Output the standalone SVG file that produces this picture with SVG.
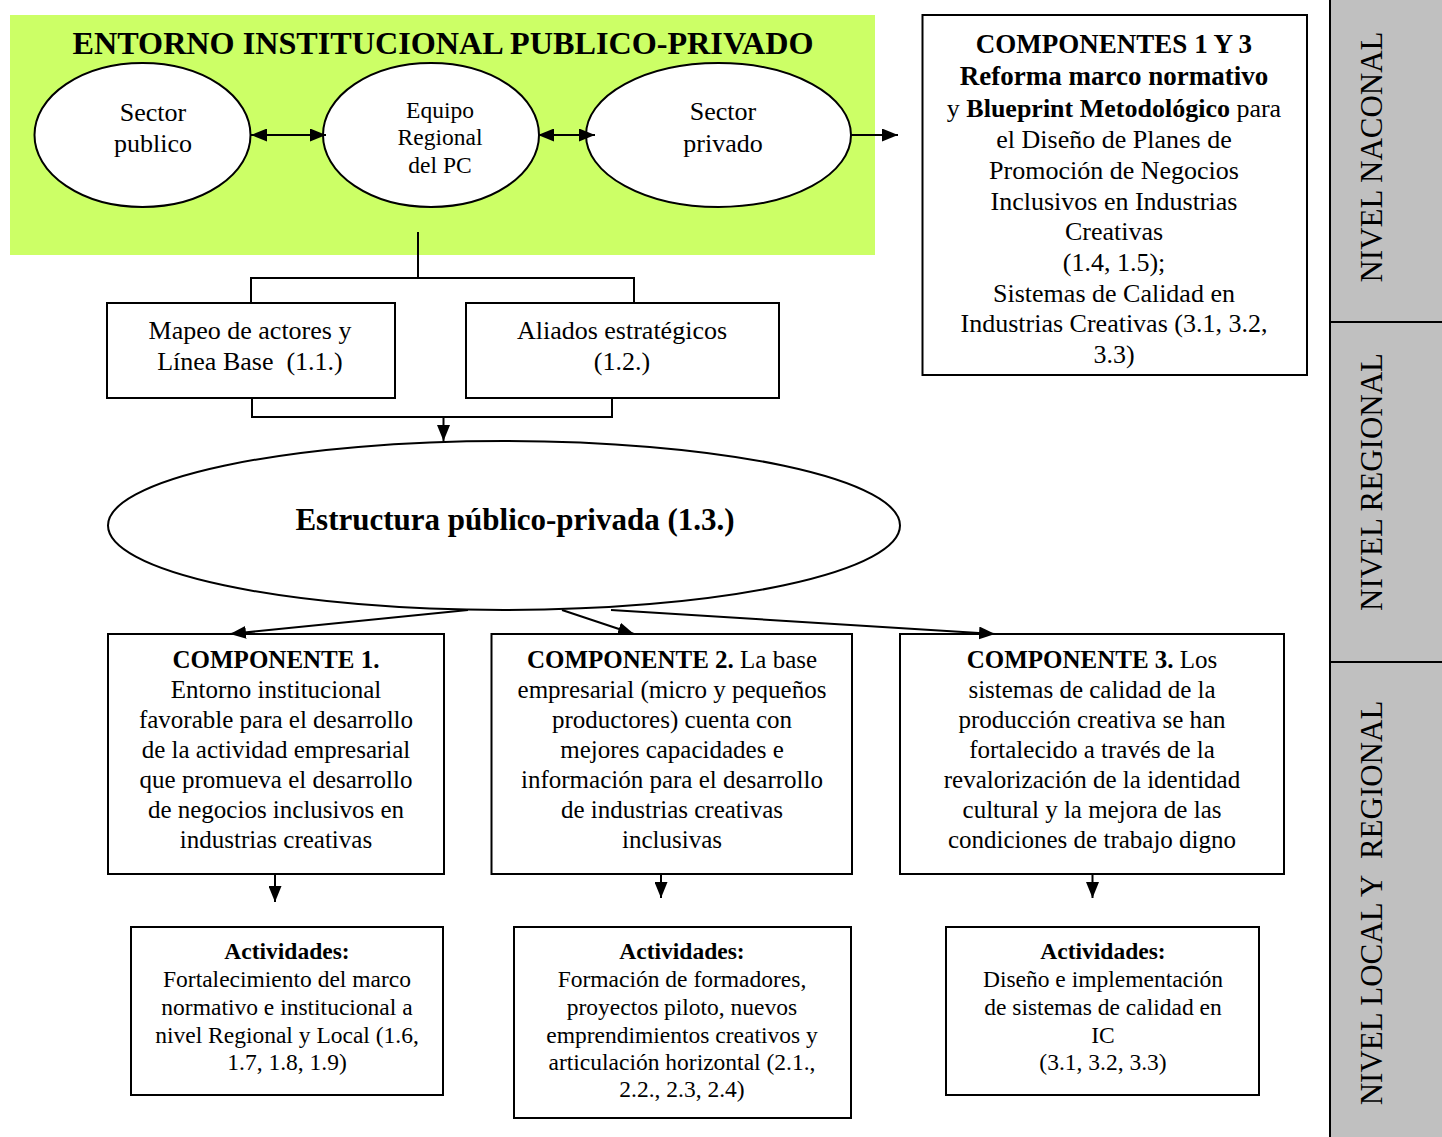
<svg xmlns="http://www.w3.org/2000/svg" width="1442" height="1137" viewBox="0 0 1442 1137">
<style>
text{font-family:"Liberation Serif","Times New Roman",serif;fill:#000;text-anchor:middle}
.b{font-weight:bold}
.box{fill:#fff;stroke:#000;stroke-width:2}
.ell{fill:#fff;stroke:#000;stroke-width:2}
.ln{fill:none;stroke:#000;stroke-width:2}
.t26{font-size:26px}
.t23{font-size:23.5px}
.t25{font-size:25px}
.side{font-size:31px}
</style>
<defs>
<marker id="ah" viewBox="0 0 16 13" refX="16" refY="6.5" markerWidth="16" markerHeight="13" markerUnits="userSpaceOnUse" orient="auto-start-reverse">
<path d="M0,0 L16,6.5 L0,13 Z" fill="#000"/>
</marker>
</defs>
<rect x="0" y="0" width="1442" height="1137" fill="#fff"/>

<g id="sidebar">
<rect x="1330" y="-2" width="114" height="1141" fill="#C0C0C0" stroke="#000" stroke-width="2"/>
<line x1="1330" y1="322" x2="1442" y2="322" stroke="#000" stroke-width="2"/>
<line x1="1330" y1="662" x2="1442" y2="662" stroke="#000" stroke-width="2"/>
<text class="side" transform="translate(1382,157) rotate(-90)">NIVEL NACONAL</text>
<text class="side" transform="translate(1382,482) rotate(-90)">NIVEL REGIONAL</text>
<text class="side" transform="translate(1382,903) rotate(-90)">NIVEL LOCAL Y&#160; REGIONAL</text>
</g>

<g id="entorno">
<rect x="10" y="15" width="865" height="240" fill="#CCFF66"/>
<text class="b" x="443" y="54" font-size="32" textLength="741" lengthAdjust="spacingAndGlyphs">ENTORNO INSTITUCIONAL PUBLICO-PRIVADO</text>
</g>

<g id="sector-publico">
<ellipse class="ell" cx="142.5" cy="135" rx="108" ry="72"/>
<text class="t26" x="153" y="121">Sector</text>
<text class="t26" x="153" y="152">publico</text>
</g>

<g id="equipo-regional">
<ellipse class="ell" cx="431" cy="135" rx="108" ry="72"/>
<text class="t23" x="440" y="118">Equipo</text>
<text class="t23" x="440" y="145">Regional</text>
<text class="t23" x="440" y="173">del PC</text>
</g>

<g id="sector-privado">
<ellipse class="ell" cx="718.5" cy="135" rx="132.5" ry="72"/>
<text class="t26" x="723" y="120">Sector</text>
<text class="t26" x="723" y="152">privado</text>
</g>

<g id="componentes-1-3">
<rect class="box" x="922.5" y="15" width="384.5" height="360"/>
<text class="b" x="1114" y="53" font-size="27">COMPONENTES 1 Y 3</text>
<text class="b" x="1114" y="85" font-size="27">Reforma marco normativo</text>
<text class="t26" x="1114" y="117">y <tspan class="b">Blueprint Metodológico</tspan> para</text>
<text class="t26" x="1114" y="148">el Diseño de Planes de</text>
<text class="t26" x="1114" y="179">Promoción de Negocios</text>
<text class="t26" x="1114" y="210">Inclusivos en Industrias</text>
<text class="t26" x="1114" y="240">Creativas</text>
<text class="t26" x="1114" y="271">(1.4, 1.5);</text>
<text class="t26" x="1114" y="302">Sistemas de Calidad en</text>
<text class="t26" x="1114" y="332">Industrias Creativas (3.1, 3.2,</text>
<text class="t26" x="1114" y="363">3.3)</text>
</g>

<g id="mapeo">
<rect class="box" x="107" y="303" width="288" height="95"/>
<text class="t26" x="250" y="339">Mapeo de actores y</text>
<text class="t26" x="250" y="370" xml:space="preserve">Línea Base  (1.1.)</text>
</g>

<g id="aliados">
<rect class="box" x="466" y="303" width="313" height="95"/>
<text class="t26" x="622" y="339">Aliados estratégicos</text>
<text class="t26" x="622" y="370">(1.2.)</text>
</g>

<g id="estructura">
<ellipse class="ell" cx="504" cy="525.5" rx="396" ry="84.5"/>
<text class="b" x="515" y="530" font-size="31">Estructura público-privada (1.3.)</text>
</g>

<g id="componente-1">
<rect class="box" x="108" y="634" width="336" height="240"/>
<text class="t25" x="276" y="668"><tspan class="b">COMPONENTE 1.</tspan></text>
<text class="t25" x="276" y="698">Entorno institucional</text>
<text class="t25" x="276" y="728">favorable para el desarrollo</text>
<text class="t25" x="276" y="758">de la actividad empresarial</text>
<text class="t25" x="276" y="788">que promueva el desarrollo</text>
<text class="t25" x="276" y="818">de negocios inclusivos en</text>
<text class="t25" x="276" y="848">industrias creativas</text>
</g>

<g id="componente-2">
<rect class="box" x="491.5" y="634" width="360.5" height="240"/>
<text class="t25" x="672" y="668"><tspan class="b">COMPONENTE 2.</tspan> La base</text>
<text class="t25" x="672" y="698">empresarial (micro y pequeños</text>
<text class="t25" x="672" y="728">productores) cuenta con</text>
<text class="t25" x="672" y="758">mejores capacidades e</text>
<text class="t25" x="672" y="788">información para el desarrollo</text>
<text class="t25" x="672" y="818">de industrias creativas</text>
<text class="t25" x="672" y="848">inclusivas</text>
</g>

<g id="componente-3">
<rect class="box" x="900" y="634" width="384" height="240"/>
<text class="t25" x="1092" y="668"><tspan class="b">COMPONENTE 3.</tspan> Los</text>
<text class="t25" x="1092" y="698">sistemas de calidad de la</text>
<text class="t25" x="1092" y="728">producción creativa se han</text>
<text class="t25" x="1092" y="758">fortalecido a través de la</text>
<text class="t25" x="1092" y="788">revalorización de la identidad</text>
<text class="t25" x="1092" y="818">cultural y la mejora de las</text>
<text class="t25" x="1092" y="848">condiciones de trabajo digno</text>
</g>

<g id="actividades-1">
<rect class="box" x="131" y="927" width="312" height="168"/>
<text class="t23 b" x="287" y="959">Actividades:</text>
<text class="t23" x="287" y="987">Fortalecimiento del marco</text>
<text class="t23" x="287" y="1015">normativo e institucional a</text>
<text class="t23" x="287" y="1043">nivel Regional y Local (1.6,</text>
<text class="t23" x="287" y="1070">1.7, 1.8, 1.9)</text>
</g>

<g id="actividades-2">
<rect class="box" x="514" y="927" width="337" height="191"/>
<text class="t23 b" x="682" y="959">Actividades:</text>
<text class="t23" x="682" y="987">Formación de formadores,</text>
<text class="t23" x="682" y="1015">proyectos piloto, nuevos</text>
<text class="t23" x="682" y="1043">emprendimientos creativos y</text>
<text class="t23" x="682" y="1070">articulación horizontal (2.1.,</text>
<text class="t23" x="682" y="1097">2.2., 2.3, 2.4)</text>
</g>

<g id="actividades-3">
<rect class="box" x="946" y="927" width="313" height="168"/>
<text class="t23 b" x="1103" y="959">Actividades:</text>
<text class="t23" x="1103" y="987">Diseño e implementación</text>
<text class="t23" x="1103" y="1015">de sistemas de calidad en</text>
<text class="t23" x="1103" y="1043">IC</text>
<text class="t23" x="1103" y="1070">(3.1, 3.2, 3.3)</text>
</g>

<g id="connectors">
<line class="ln" x1="251" y1="135" x2="326" y2="135" marker-start="url(#ah)" marker-end="url(#ah)"/>
<line class="ln" x1="538" y1="135" x2="595" y2="135" marker-start="url(#ah)" marker-end="url(#ah)"/>
<line class="ln" x1="851" y1="135" x2="898" y2="135" marker-end="url(#ah)"/>
<line class="ln" x1="418" y1="232" x2="418" y2="278"/>
<polyline class="ln" points="251,303 251,278 634,278 634,303"/>
<polyline class="ln" points="252,398 252,417 612,417 612,398"/>
<line class="ln" x1="443.5" y1="417" x2="443.5" y2="441" marker-end="url(#ah)"/>
<line class="ln" x1="468" y1="610" x2="230" y2="634" marker-end="url(#ah)"/>
<line class="ln" x1="562" y1="610" x2="634" y2="634" marker-end="url(#ah)"/>
<line class="ln" x1="611" y1="610" x2="995" y2="634" marker-end="url(#ah)"/>
<line class="ln" x1="275" y1="874" x2="275" y2="902" marker-end="url(#ah)"/>
<line class="ln" x1="661" y1="874" x2="661" y2="898" marker-end="url(#ah)"/>
<line class="ln" x1="1092.5" y1="874" x2="1092.5" y2="898" marker-end="url(#ah)"/>
</g>
</svg>
